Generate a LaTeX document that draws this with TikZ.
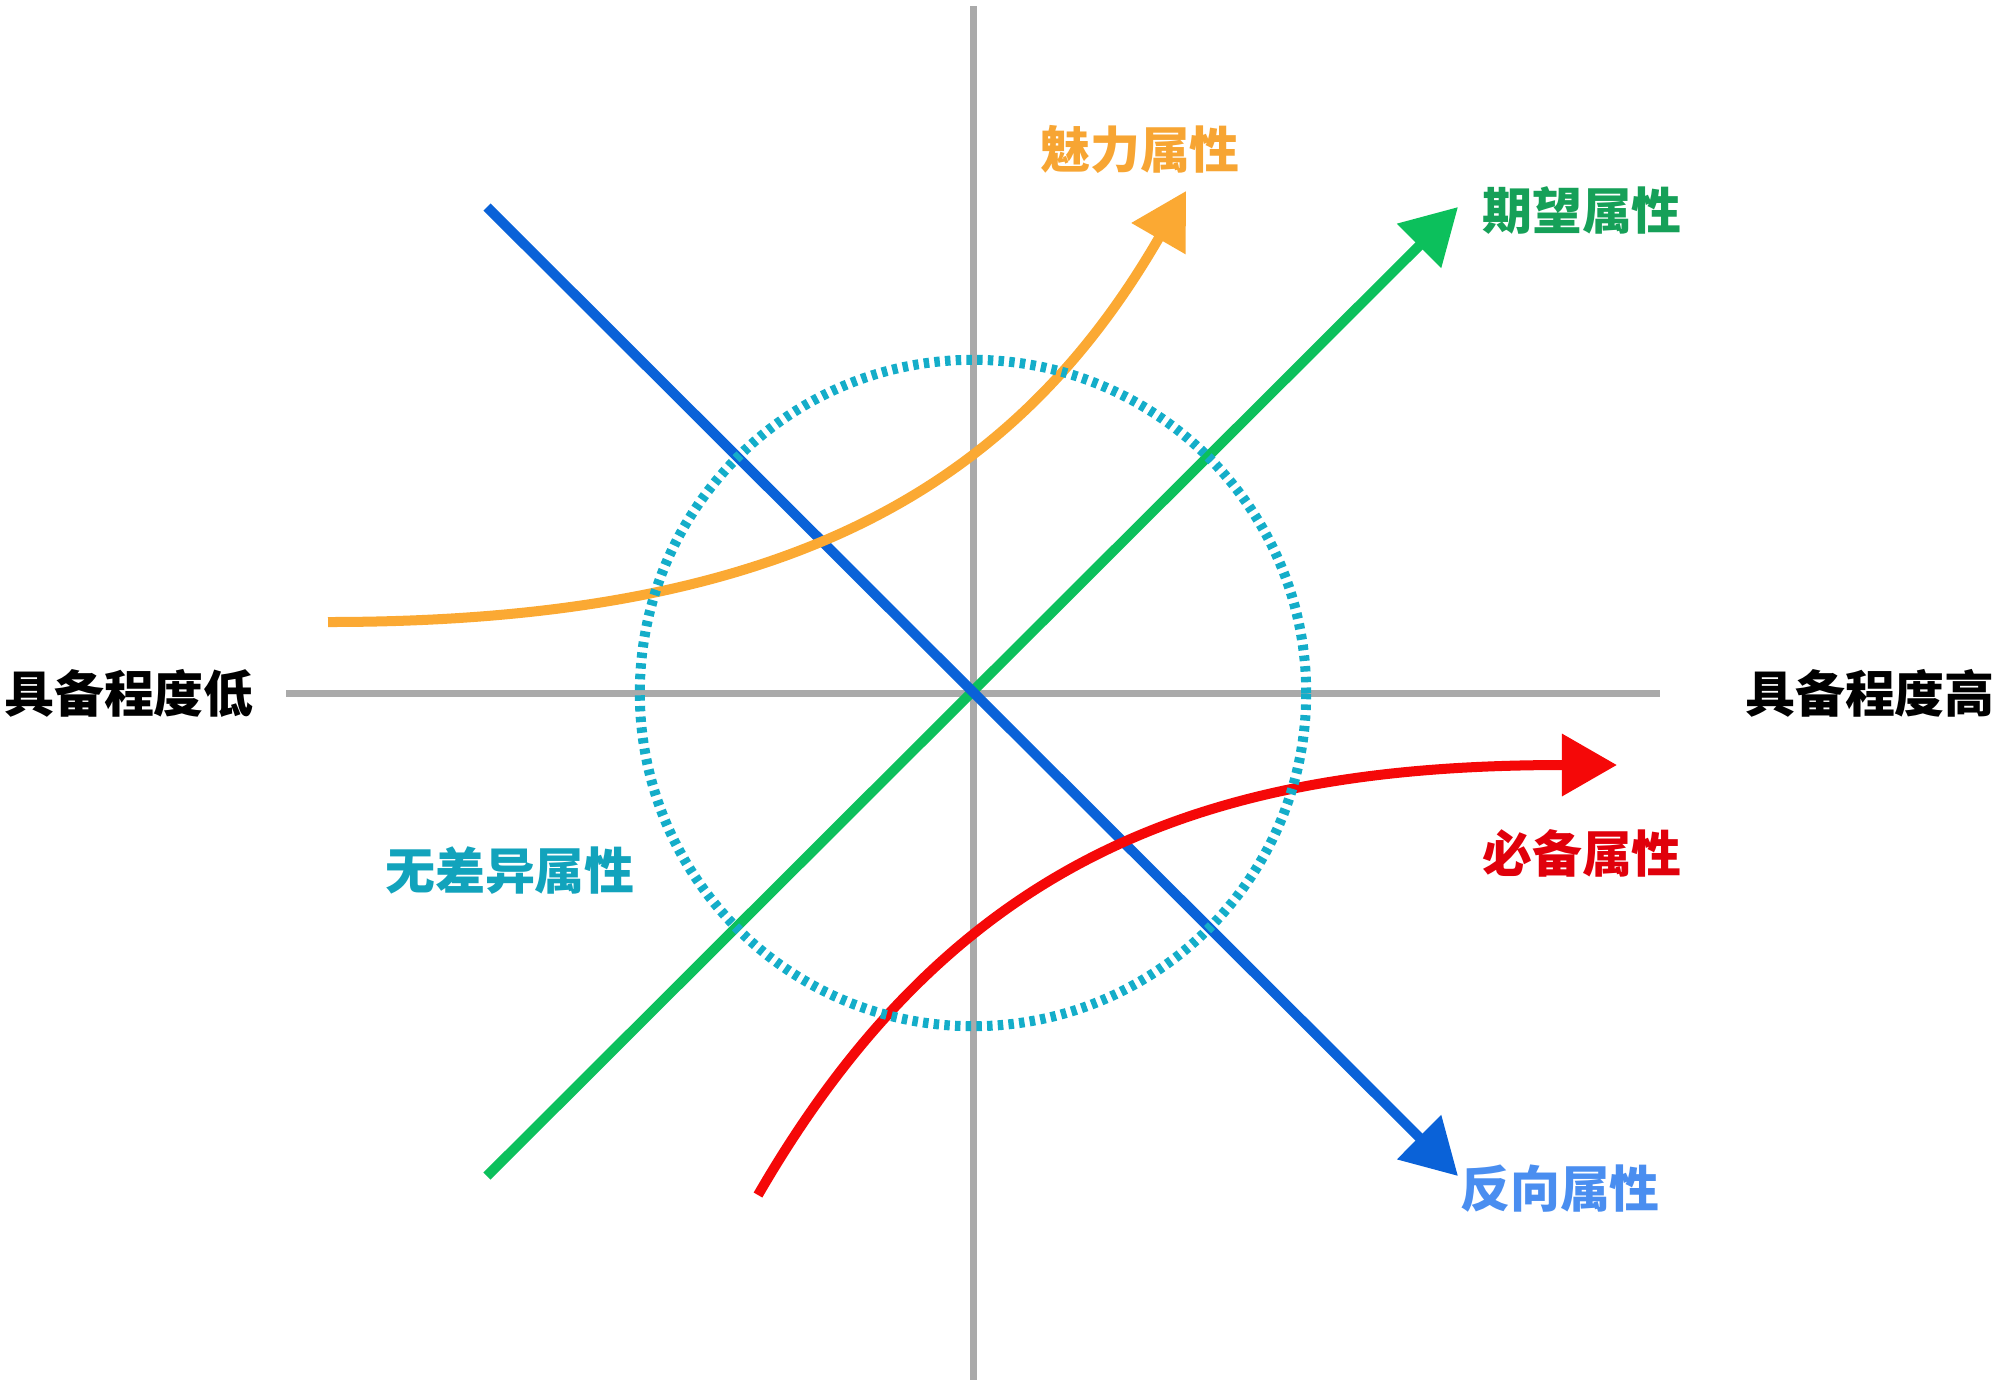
\documentclass[tikz,border=0pt]{standalone}
\usepackage{fontspec}
\newfontfamily\cjk{Noto Sans CJK SC}
\usetikzlibrary{arrows.meta}
\definecolor{axisgray}{HTML}{AAAAAA}
\definecolor{corange}{HTML}{FBA933}
\definecolor{cgreen}{HTML}{0CC05C}
\definecolor{cblue}{HTML}{0A62D8}
\definecolor{cred}{HTML}{F50808}
\definecolor{ccyan}{HTML}{14ADC9}
\definecolor{torange}{HTML}{F7A533}
\definecolor{tgreen}{HTML}{16A058}
\definecolor{tred}{HTML}{E0000B}
\definecolor{tblue}{HTML}{4A8EF0}
\definecolor{tcyan}{HTML}{12A3BC}
\tikzset{
  axisline/.style={draw=axisgray, line width=0.07cm},
  curveline/.style={line width=0.1cm, -{Triangle[length=0.55cm, width=0.6cm]}},
  lbl/.style={font=\cjk\bfseries\fontsize{14.2pt}{16pt}\selectfont, inner sep=0pt},
  ring/.style={draw=ccyan, line width=0.1cm, dash pattern=on 0.055cm off 0.052cm}
}
\begin{document}
\begin{tikzpicture}[x=0.01cm, y=-0.01cm]
\useasboundingbox (0,0) rectangle (2000,1387);
% axes
\coordinate (vtop) at (973,6);
\coordinate (vbot) at (973,1380);
\coordinate (hleft) at (286,693);
\coordinate (hright) at (1660,693);
\coordinate (ctr) at (973,693);
\draw[axisline] (vtop) -- (vbot);
\draw[axisline] (hleft) -- (hright);
% green line
\coordinate (gstart) at (487,1176);
\coordinate (gend) at (1458,207);
\draw[cgreen, curveline] (gstart) -- (gend);
% blue line
\coordinate (bstart) at (487,207);
\coordinate (bend) at (1458,1176);
\draw[cblue, curveline] (bstart) -- (bend);
% orange curve
\coordinate (ostart) at (328,622);
\coordinate (oend) at (1186,191);
\draw[corange, curveline] (ostart) .. controls (778,622) and (1011,494) .. (oend);
% red curve
\coordinate (rstart) at (758,1195);
\coordinate (rend) at (1617,765);
\draw[cred, curveline] (rstart) .. controls (958,849) and (1217,765) .. (rend);
% dotted circle
\draw[ring] (ctr) circle[radius=3.33cm];
% labels
\node[lbl, text=black] (low) at (129,693) {具备程度低};
\node[lbl, text=black] (high) at (1870,693) {具备程度高};
\node[lbl, text=torange] (meili) at (1140,149) {魅力属性};
\node[lbl, text=tgreen] (qiwang) at (1582,210) {期望属性};
\node[lbl, text=tred] (bibei) at (1582,853) {必备属性};
\node[lbl, text=tblue] (fanxiang) at (1560,1189) {反向属性};
\node[lbl, text=tcyan] (wuchayi) at (510,871) {无差异属性};
\end{tikzpicture}
\end{document}
